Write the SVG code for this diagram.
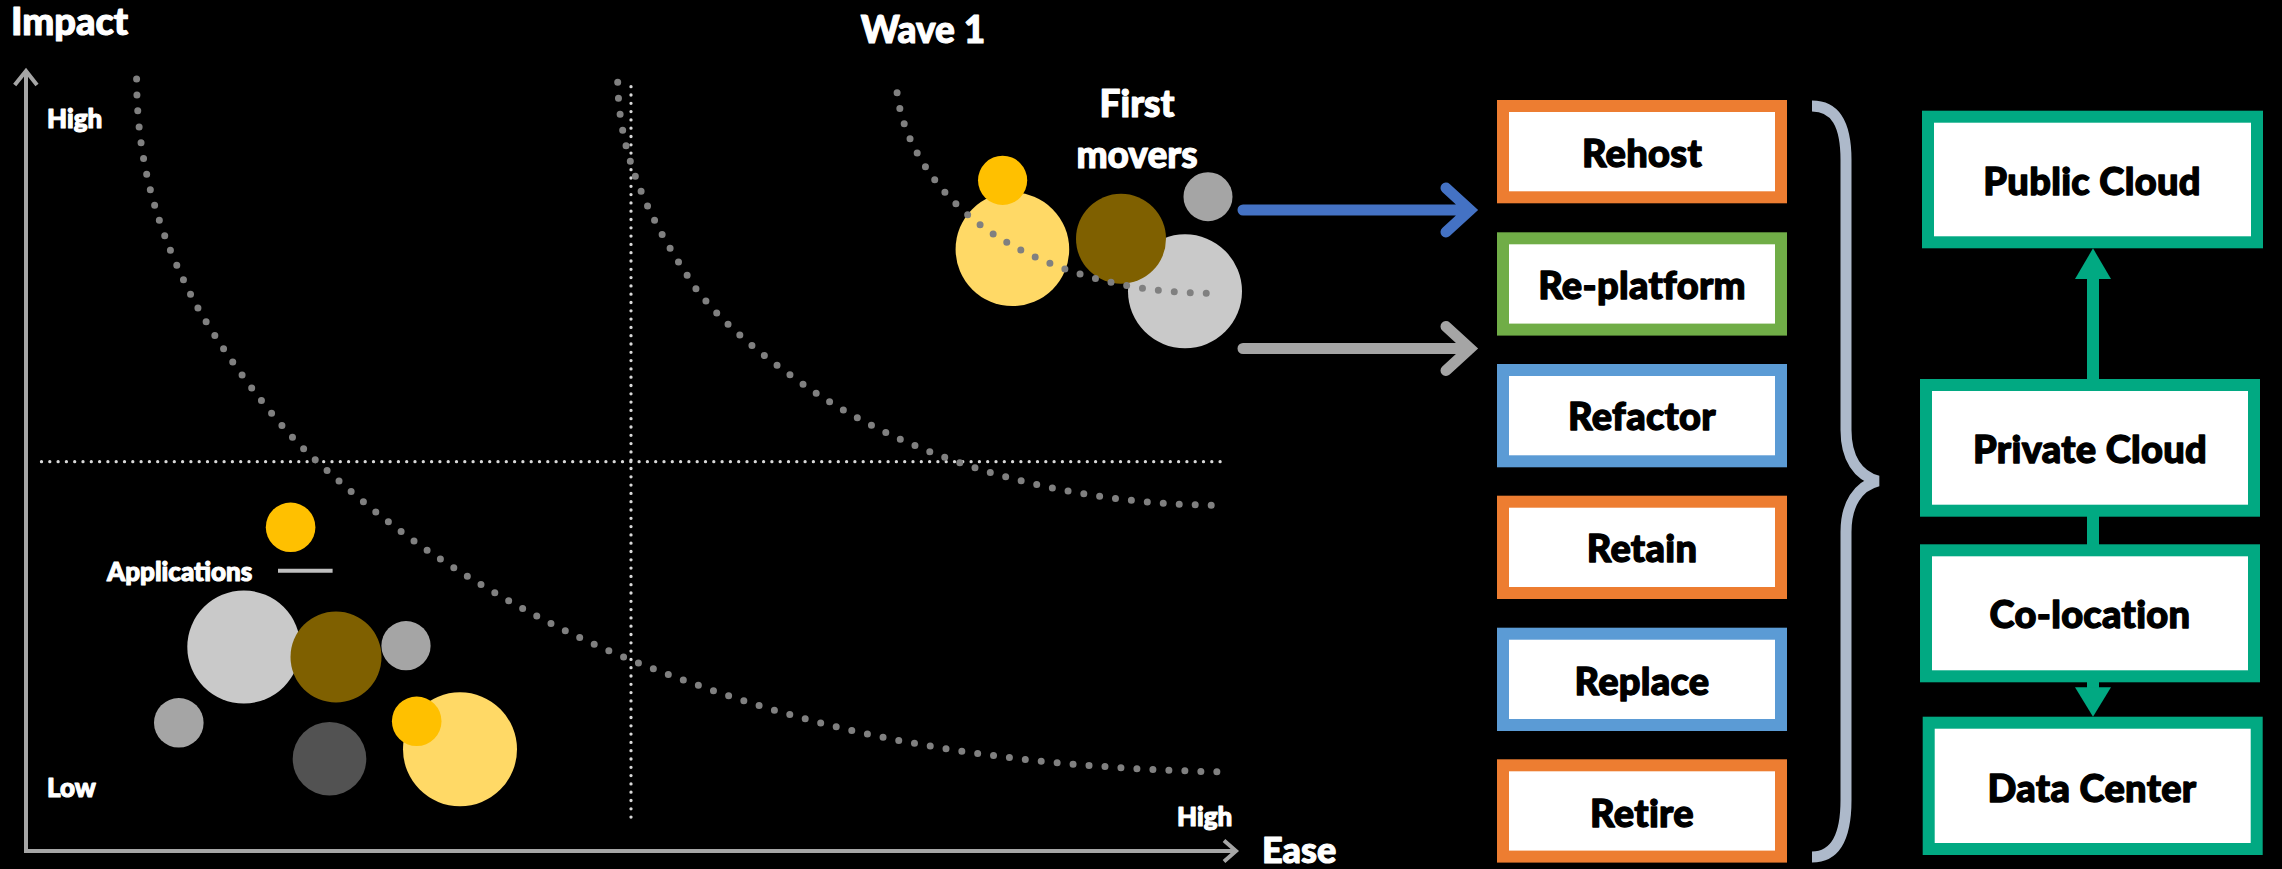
<svg xmlns="http://www.w3.org/2000/svg" width="2282" height="869" viewBox="0 0 2282 869">
<style>
.lbl{font-family:Lato,"Liberation Sans",sans-serif;font-weight:900;fill:#fff;stroke:#fff;stroke-width:1.1;stroke-linejoin:round}
.box{fill:#fff;stroke-width:12}
.btxt{font-family:Lato,"Liberation Sans",sans-serif;font-weight:900;font-size:38px;fill:#000;stroke:#000;stroke-width:1.3;stroke-linejoin:round;text-anchor:middle;letter-spacing:0.3px}
.curve{fill:none;stroke:#808080;stroke-width:7;stroke-linecap:round;stroke-dasharray:0 16}
.fine{fill:none;stroke:#d9d9d9;stroke-width:3.3;stroke-linecap:round;stroke-dasharray:0 8.3}
.axis{fill:none;stroke:#a6a6a6;stroke-width:4}
.orange{stroke:#ED7D31}.green{stroke:#70AD47}.blue{stroke:#5B9BD5}.teal{stroke:#01A982}
</style>
<rect width="2282" height="869" fill="#000"/>

<g id="chart">
  <path class="axis" d="M26,71 L26,851 L1236,851"/>
  <path class="axis" d="M14.7,85 L26,71 L37,85" stroke-linejoin="miter"/>
  <path class="axis" d="M1224,840.5 L1236,851 L1224,861.5"/>
  <path class="fine" d="M631,86.7 L631,823"/>
  <path class="fine" d="M41.5,461.7 L1225,461.7"/>
  <text class="lbl" x="11" y="35" font-size="38">Impact</text>
  <text class="lbl" x="47" y="128" font-size="26">High</text>
  <text class="lbl" x="47" y="797" font-size="26">Low</text>
  <text class="lbl" x="1177" y="826" font-size="26">High</text>
  <text class="lbl" x="1262" y="863" font-size="36">Ease</text>
</g>

<g id="applications">
  <circle cx="243.8" cy="647" r="56.5" fill="#C9C9C9"/>
  <circle cx="336" cy="657" r="45.5" fill="#7F6000"/>
  <circle cx="406" cy="645.7" r="24.6" fill="#A5A5A5"/>
  <circle cx="178.8" cy="722.8" r="24.8" fill="#A5A5A5"/>
  <circle cx="329.5" cy="758.8" r="36.8" fill="#525252"/>
  <circle cx="460" cy="749.3" r="57" fill="#FFD966"/>
  <circle cx="416.7" cy="721.3" r="24.8" fill="#FFC000"/>
  <circle cx="290.6" cy="527.3" r="24.8" fill="#FFC000"/>
  <text class="lbl" x="107" y="580.7" font-size="26">Applications</text>
  <line x1="278" y1="570.7" x2="332.6" y2="570.7" stroke="#bfbfbf" stroke-width="4"/>
</g>

<g id="first-movers">
  <circle cx="1185" cy="291.3" r="57" fill="#C9C9C9"/>
  <circle cx="1121" cy="238.8" r="45" fill="#7F6000"/>
  <circle cx="1012.4" cy="249.3" r="56.8" fill="#FFD966"/>
  <circle cx="1002.6" cy="180.3" r="24.6" fill="#FFC000"/>
  <circle cx="1208" cy="196.7" r="24.5" fill="#A5A5A5"/>
  <text class="lbl" x="923" y="42.7" font-size="37" text-anchor="middle">Wave 1</text>
  <text class="lbl" x="1137" y="116.7" font-size="37" text-anchor="middle">First</text>
  <text class="lbl" x="1137" y="168" font-size="37" text-anchor="middle">movers</text>
</g>

<g id="curves">
  <path class="curve" d="M136.6,79 C137,140 147,210 192,297 C215,341.5 271.5,419 308,453 C352,494 398,532 448,564 C507,602 571,636.4 636,662 C696.5,685.8 758,707 821,723 C952,756.5 1089,769 1224,772"/>
  <path class="curve" d="M617.7,82.3 C619.5,170 660,235 697.3,290.7 C730,332 776,366 821.3,396.7 C939.3,471.7 1084,505.3 1224,505.3"/>
  <path class="curve" d="M897.1,92.7 C903.8,150.1 946,203.7 994.7,235 C1057.7,275.5 1137,293.3 1212,293.3"/>
</g>

<g id="rehost"><rect class="box orange" x="1503" y="106" width="278" height="91.3"/><text class="btxt" x="1642" y="167">Rehost</text></g>
<g id="re-platform"><rect class="box green" x="1503" y="238.3" width="278" height="91.3"/><text class="btxt" x="1642" y="298.5">Re-platform</text></g>
<g id="refactor"><rect class="box blue" x="1503" y="370" width="278" height="91.3"/><text class="btxt" x="1642" y="430">Refactor</text></g>
<g id="retain"><rect class="box orange" x="1503" y="501.7" width="278" height="91.3"/><text class="btxt" x="1642" y="562">Retain</text></g>
<g id="replace"><rect class="box blue" x="1503" y="633.7" width="278" height="91.3"/><text class="btxt" x="1642" y="695">Replace</text></g>
<g id="retire"><rect class="box orange" x="1503" y="765.3" width="278" height="91.3"/><text class="btxt" x="1642" y="826.7">Retire</text></g>

<g id="public-cloud"><rect class="box teal" x="1928" y="116.7" width="329" height="125.6"/><text class="btxt" x="2092" y="195">Public Cloud</text></g>
<g id="private-cloud"><rect class="box teal" x="1926" y="385" width="328" height="125.7"/><text class="btxt" x="2090" y="462.7">Private Cloud</text></g>
<g id="co-location"><rect class="box teal" x="1926" y="550.3" width="328" height="126"/><text class="btxt" x="2090" y="628.3">Co-location</text></g>
<g id="data-center"><rect class="box teal" x="1928.7" y="722.7" width="328" height="126.3"/><text class="btxt" x="2092" y="801.7">Data Center</text></g>

<g id="connectors">
  <path d="M1243,210 L1470,210 M1446,188 L1470,210 L1446,232" fill="none" stroke="#4472C4" stroke-width="11" stroke-linecap="round" stroke-linejoin="miter"/>
  <path d="M1243,348.5 L1470,348.5 M1446,326.5 L1470,348.5 L1446,370.5" fill="none" stroke="#A5A5A5" stroke-width="11" stroke-linecap="round" stroke-linejoin="miter"/>
  <path d="M1812,106 C1836,106 1846,125 1846,160 L1846,430 C1846,458 1858,476 1878,481 C1858,486 1846,504 1846,532 L1846,800 C1846,836 1836,857 1812,857" fill="none" stroke="#ADB9CA" stroke-width="11"/>
  <line x1="2093" y1="379" x2="2093" y2="276" stroke="#01A982" stroke-width="12"/>
  <polygon points="2075,279 2111,279 2093,248.3" fill="#01A982"/>
  <line x1="2093" y1="516" x2="2093" y2="545" stroke="#01A982" stroke-width="12"/>
  <line x1="2093" y1="682" x2="2093" y2="690" stroke="#01A982" stroke-width="12"/>
  <polygon points="2075,687.3 2111,687.3 2093,716.7" fill="#01A982"/>
</g>
</svg>
